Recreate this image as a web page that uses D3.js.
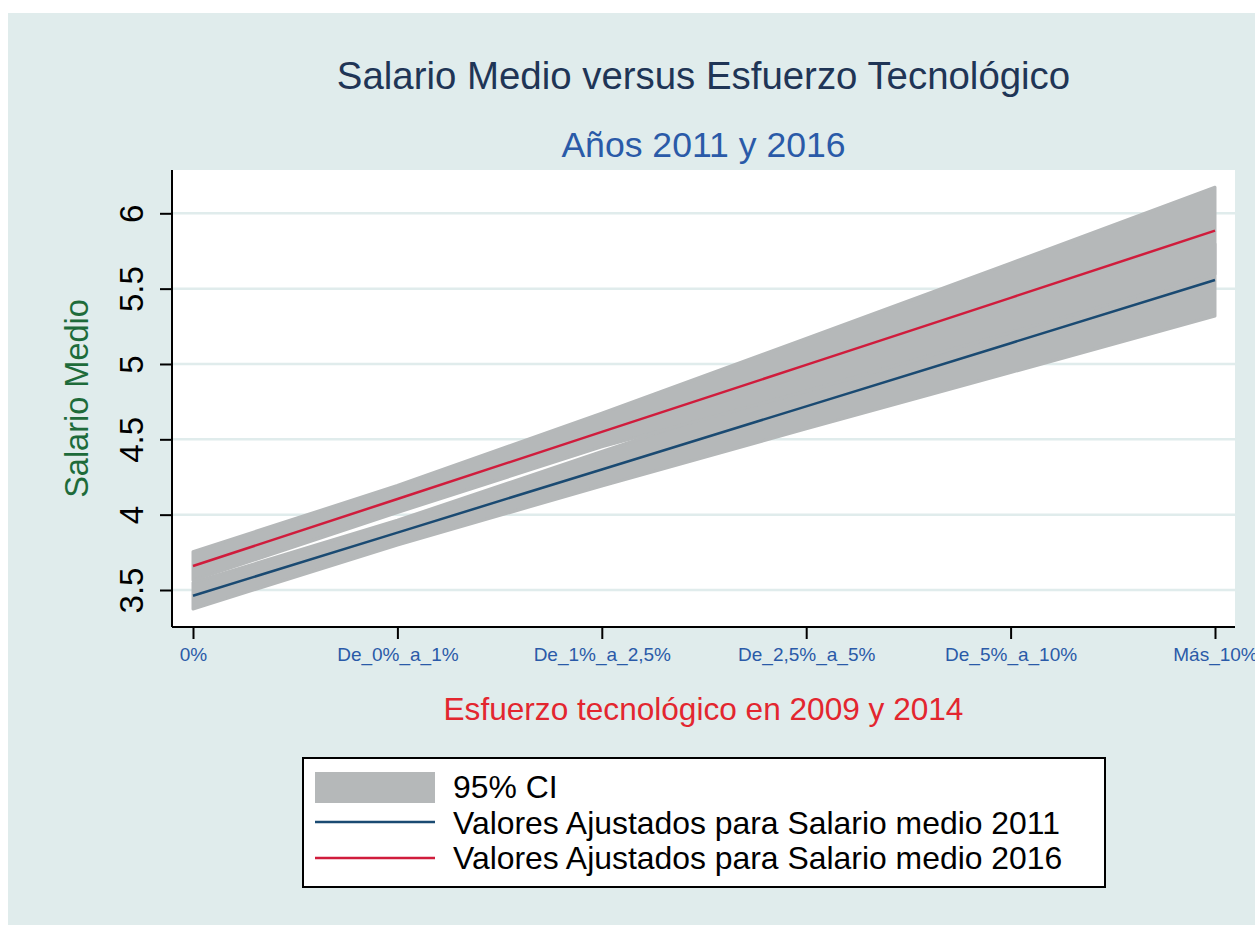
<!DOCTYPE html>
<html>
<head>
<meta charset="utf-8">
<script src="https://cdn.jsdelivr.net/npm/d3@7"></script>
<style>
  body { margin: 0; background: #fff; }
  svg { display: block; font-family: "Liberation Sans", Arial, sans-serif; }
</style>
</head>
<body>
<script>
// categories on x axis
var categories = ["0%", "De_0%_a_1%", "De_1%_a_2,5%", "De_2,5%_a_5%", "De_5%_a_10%", "Más_10%"];
var yTicks = [3.5, 4, 4.5, 5, 5.5, 6];

// fitted values and 95% CI bounds
var fit2011 = [3.462, 3.881, 4.300, 4.719, 5.138, 5.557];
var lo2011 = [3.374, 3.799, 4.190, 4.569, 4.943, 5.318];
var hi2011 = [3.550, 3.963, 4.420, 4.869, 5.333, 5.796];
var fit2016 = [3.659, 4.104, 4.549, 4.994, 5.439, 5.885];
var lo2016 = [3.564, 4.014, 4.450, 4.819, 5.209, 5.597];
var hi2016 = [3.754, 4.194, 4.674, 5.169, 5.669, 6.173];

var W = 1255, H = 925;
var bg = "#e0ecec", band = "#b5b8b9";
var plot = { left: 172, top: 170, right: 1235, bottom: 627 };
var pw = plot.right - plot.left, ph = plot.bottom - plot.top;

var svg = d3.select("body").append("svg").attr("width", W).attr("height", H);
svg.append("rect").attr("x", 8).attr("y", 13).attr("width", W - 8).attr("height", H - 13).attr("fill", bg);

var x = d3.scalePoint().domain(categories).range([21, pw - 20]);
var y = d3.scaleLinear().domain([3.5, 6]).range([420, 43.3]);

var g = svg.append("g").attr("transform", "translate(" + plot.left + "," + plot.top + ")");
g.append("rect").attr("width", pw).attr("height", ph).attr("fill", "#fff");

// y grid
g.append("g").selectAll("line").data(yTicks).enter().append("line")
    .attr("x1", 0).attr("x2", pw)
    .attr("y1", function (d) { return y(d); }).attr("y2", function (d) { return y(d); })
    .attr("stroke", bg).attr("stroke-width", 2.5);

function rows(lo, hi, fit) {
    return categories.map(function (c, i) { return { c: c, lo: lo[i], hi: hi[i], fit: fit[i] }; });
}
var s2011 = rows(lo2011, hi2011, fit2011), s2016 = rows(lo2016, hi2016, fit2016);

var area = d3.area().x(function (d) { return x(d.c); })
    .y0(function (d) { return y(d.lo); }).y1(function (d) { return y(d.hi); });
var line = d3.line().x(function (d) { return x(d.c); }).y(function (d) { return y(d.fit); });

[s2011, s2016].forEach(function (s) {
    g.append("path").datum(s).attr("d", area)
        .attr("fill", band).attr("stroke", band).attr("stroke-width", 3).attr("stroke-linejoin", "round");
});
g.append("path").datum(s2011).attr("d", line).attr("fill", "none").attr("stroke", "#1a4a72").attr("stroke-width", 2.5);
g.append("path").datum(s2016).attr("d", line).attr("fill", "none").attr("stroke", "#d01c3c").attr("stroke-width", 2.5);

// axes
var yAxis = g.append("g").call(d3.axisLeft(y).tickValues(yTicks).tickSize(12).tickSizeOuter(0).tickFormat(d3.format("")));
yAxis.select(".domain").remove();
yAxis.selectAll(".tick line").attr("stroke", "#000").attr("stroke-width", 2);
yAxis.selectAll(".tick text")
    .attr("x", 0).attr("dy", 0)
    .attr("transform", "translate(-29,0) rotate(-90)")
    .attr("text-anchor", "middle")
    .attr("fill", "#000").style("font-size", "33px");

var xAxis = g.append("g").attr("transform", "translate(0," + ph + ")")
    .call(d3.axisBottom(x).tickSize(12).tickSizeOuter(0));
xAxis.select(".domain").remove();
xAxis.selectAll(".tick line").attr("stroke", "#000").attr("stroke-width", 2);
xAxis.selectAll(".tick text").attr("y", 34).attr("dy", 0)
    .attr("fill", "#2a5aa8").style("font-size", "19px");

g.append("line").attr("x1", 0).attr("x2", 0).attr("y1", 0).attr("y2", ph).attr("stroke", "#000").attr("stroke-width", 2);
g.append("line").attr("x1", 0).attr("x2", pw).attr("y1", ph).attr("y2", ph).attr("stroke", "#000").attr("stroke-width", 2);

// titles
var cx = plot.left + pw / 2;
svg.append("text").attr("x", cx).attr("y", 89).attr("text-anchor", "middle")
    .attr("fill", "#1f3556").style("font-size", "38.4px").text("Salario Medio versus Esfuerzo Tecnológico");
svg.append("text").attr("x", cx).attr("y", 157).attr("text-anchor", "middle")
    .attr("fill", "#2a5aa8").style("font-size", "35.6px").text("Años 2011 y 2016");
svg.append("text").attr("x", cx).attr("y", 720).attr("text-anchor", "middle")
    .attr("fill", "#e3262f").style("font-size", "31.6px").text("Esfuerzo tecnológico en 2009 y 2014");
svg.append("text").attr("transform", "translate(88," + (plot.top + ph / 2) + ") rotate(-90)")
    .attr("text-anchor", "middle").attr("fill", "#1e6b3a").style("font-size", "32.5px").text("Salario Medio");

// legend
var lg = svg.append("g").attr("transform", "translate(303,758)");
lg.append("rect").attr("width", 802).attr("height", 129).attr("fill", "#fff").attr("stroke", "#000").attr("stroke-width", 2);
lg.append("rect").attr("x", 12).attr("y", 14).attr("width", 120).attr("height", 31).attr("fill", band);
lg.append("line").attr("x1", 12).attr("x2", 132).attr("y1", 64).attr("y2", 64).attr("stroke", "#1a4a72").attr("stroke-width", 2.5);
lg.append("line").attr("x1", 12).attr("x2", 132).attr("y1", 100).attr("y2", 100).attr("stroke", "#d01c3c").attr("stroke-width", 2.5);
var legendLabels = ["95% CI", "Valores Ajustados para Salario medio 2011", "Valores Ajustados para Salario medio 2016"];
lg.selectAll("text.lab").data(legendLabels).enter().append("text").attr("class", "lab")
    .attr("x", 150).attr("y", function (d, i) { return 40 + i * 35.5; })
    .attr("fill", "#000").style("font-size", "31.9px").text(function (d) { return d; });
</script>
</body>
</html>
